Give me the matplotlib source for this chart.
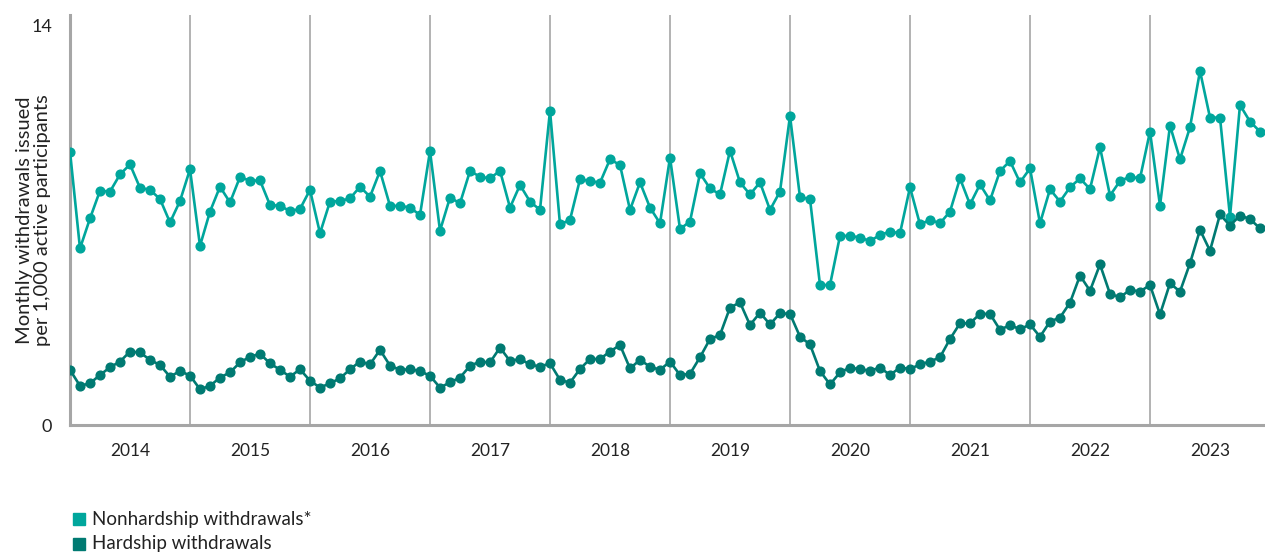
import matplotlib
matplotlib.use("Agg")
import matplotlib.pyplot as plt
from matplotlib.patches import Rectangle
import numpy as np

years = [str(y) for y in range(2014, 2024)]

# monthly values, Jan 2014 .. Dec 2023
nonhardship = [
    9.57, 6.18, 7.23, 8.20, 8.17, 8.77, 9.12, 8.30, 8.23, 7.91, 7.09, 7.84,
    8.95, 6.27, 7.47, 8.34, 7.79, 8.68, 8.55, 8.56, 7.70, 7.67, 7.49, 7.56,
    8.23, 6.71, 7.82, 7.84, 7.93, 8.34, 7.99, 8.89, 7.67, 7.67, 7.61, 7.35,
    9.59, 6.80, 7.96, 7.76, 8.89, 8.69, 8.63, 8.90, 7.61, 8.40, 7.82, 7.53,
    11.00, 7.02, 7.18, 8.60, 8.54, 8.48, 9.30, 9.10, 7.53, 8.49, 7.61, 7.06,
    9.36, 6.86, 7.12, 8.81, 8.28, 8.07, 9.60, 8.49, 8.07, 8.49, 7.53, 8.17,
    10.82, 7.97, 7.91, 4.90, 4.90, 6.62, 6.62, 6.56, 6.44, 6.65, 6.77, 6.71,
    8.32, 7.02, 7.18, 7.06, 7.47, 8.63, 7.72, 8.42, 7.86, 8.89, 9.24, 8.49,
    8.98, 7.06, 8.25, 7.82, 8.32, 8.63, 8.26, 9.72, 8.03, 8.54, 8.69, 8.63,
    10.27, 7.68, 10.48, 9.30, 10.42, 12.39, 10.76, 10.76, 7.29, 11.20, 10.62, 10.27,
]
hardship = [
    1.93, 1.37, 1.46, 1.75, 2.02, 2.22, 2.57, 2.54, 2.28, 2.10, 1.69, 1.89,
    1.73, 1.25, 1.37, 1.66, 1.84, 2.19, 2.39, 2.49, 2.16, 1.93, 1.69, 1.95,
    1.55, 1.31, 1.46, 1.63, 1.95, 2.22, 2.12, 2.63, 2.08, 1.93, 1.95, 1.89,
    1.72, 1.31, 1.49, 1.66, 2.07, 2.22, 2.19, 2.71, 2.24, 2.31, 2.12, 2.04,
    2.16, 1.58, 1.48, 1.96, 2.31, 2.31, 2.57, 2.80, 1.98, 2.28, 2.04, 1.93,
    2.22, 1.75, 1.79, 2.37, 3.01, 3.15, 4.11, 4.29, 3.50, 3.93, 3.52, 3.91,
    3.89, 3.09, 2.82, 1.89, 1.42, 1.84, 2.01, 1.95, 1.90, 2.01, 1.75, 2.01,
    1.96, 2.12, 2.22, 2.37, 3.01, 3.56, 3.56, 3.89, 3.89, 3.33, 3.50, 3.35,
    3.52, 3.09, 3.62, 3.76, 4.28, 5.23, 4.70, 5.62, 4.59, 4.47, 4.73, 4.67,
    4.90, 3.87, 4.96, 4.67, 5.66, 6.83, 6.10, 7.37, 6.98, 7.33, 7.21, 6.88,
]
series_names = ["Nonhardship withdrawals*", "Hardship withdrawals"]

c_non = "#00a69c"
c_hard = "#007a72"
grey = "#a6a6a6"
txt = "#222222"

plt.rcParams['font.family'] = ['Lato', 'DejaVu Sans']

W, H = 1265, 552
fig = plt.figure(figsize=(W / 100, H / 100), dpi=100)
ax = fig.add_axes([70 / W, 127 / H, 1195 / W, 410 / H])

x = np.arange(len(nonhardship))
ax.plot(x, nonhardship, color=c_non, lw=1.9, marker='o', ms=6.3, zorder=3)
ax.plot(x, hardship, color=c_hard, lw=1.9, marker='o', ms=6.3, zorder=3)

for i in range(12, len(x), 12):
    ax.axvline(i, color=grey, lw=1.2, zorder=1)

ax.set_xlim(0, 119.5)
ax.set_ylim(0, 14.35)

ax.set_xticks([6 + 12 * i for i in range(len(years))])
ax.set_xticklabels(years, fontsize=12.5, color=txt)
ax.set_yticks([0, 14])
ax.set_yticklabels(["0", "14"], fontsize=13, color=txt)
ax.tick_params(axis='x', length=0, pad=13)
ax.tick_params(axis='y', length=0, pad=13)

for s in ["top", "right"]:
    ax.spines[s].set_visible(False)
for s in ["left", "bottom"]:
    ax.spines[s].set_color(grey)
    ax.spines[s].set_linewidth(2.2)

ax.set_ylabel("Monthly withdrawals issued\nper 1,000 active participants",
              fontsize=14.5, color=txt, linespacing=1.05)
ax.yaxis.set_label_coords(-19 / 1195, 0.5)

# legend drawn by hand to match the reference spacing
for k, (name, col) in enumerate(zip(series_names, [c_non, c_hard])):
    yc = H - (519 + 25 * k)
    fig.patches.append(Rectangle((73 / W, (yc - 6) / H), 12 / W, 12 / H,
                                 color=col, transform=fig.transFigure))
    fig.text(92 / W, yc / H, name, fontsize=13.5, color=txt, va='center')

fig.savefig("out.png", dpi=100)
